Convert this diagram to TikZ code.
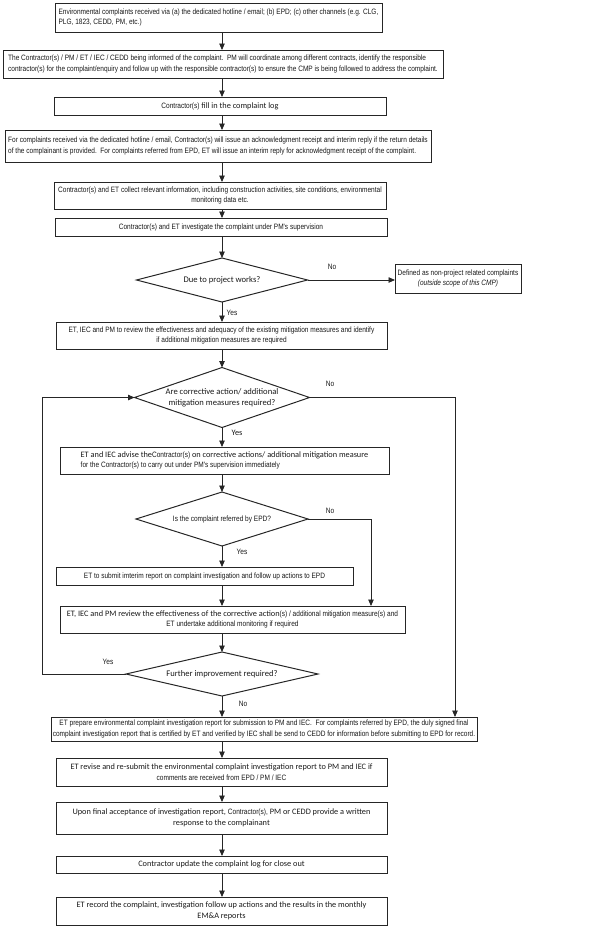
\documentclass[tikz,border=0pt]{standalone}
\usepackage{fontspec}
\setmainfont{Liberation Sans}
\newfontfamily\arnfnt[FakeStretch=0.84]{Liberation Sans}
\newfontfamily\calfnt{Carlito}
\usetikzlibrary{shapes.geometric,arrows.meta}
\newcommand{\af}{\arnfnt\fontsize{7.78}{10.8}\selectfont}
\newcommand{\cf}{\calfnt\fontsize{8.3}{10.8}\selectfont}
\begin{document}
\begin{tikzpicture}[x=1pt,y=-1pt,
  box/.style={draw=black!85,line width=1pt,inner sep=0pt,outer sep=0pt,font=\af,text=black!90},
  dia/.style={draw=black!85,line width=1pt,shape=diamond,inner sep=0pt,outer sep=0pt},
  dlbl/.style={font=\calfnt\fontsize{8.6}{10.8}\selectfont,align=center,text=black!90},
  arr/.style={draw=black!85,line width=0.8pt,-{Triangle[length=6.5pt,width=5.5pt]}},
  lab/.style={font=\arnfnt\fontsize{7.8}{9}\selectfont,text=black!90}]
\useasboundingbox (0,0) rectangle (596,930);
\coordinate (ax) at (222,0);
\coordinate (rx) at (455,0);
\coordinate (mx) at (371,0);
\coordinate (lx) at (42,0);

\node[box,minimum width=327,minimum height=29,align=left] (b1) at (218.5,17.5)
 {Environmental complaints received via (a) the dedicated hotline / email; (b) EPD; (c) other channels (e.g. CLG,\\PLG, 1823, CEDD, PM, etc.)\hspace*{220pt}};
\node[box,minimum width=440,minimum height=28,align=left] (b2) at (223,64)
 {The Contractor(s) / PM / ET / IEC / CEDD being informed of the complaint.~~PM will coordinate among different contracts, identify the responsible\\contractor(s) for the complaint/enquiry and follow up with the responsible contractor(s) to ensure the CMP is being followed to address the complaint.};
\node[box,minimum width=332,minimum height=18,align=center] (b3) at (220,106)
 {Contractor(s) {\cf fill in the complaint log}};
\node[box,minimum width=426,minimum height=32,align=left] (b4) at (218,146)
 {For complaints received via the dedicated hotline / email, Contractor(s) will issue an acknowledgment receipt and interim reply if the return details\\of the complainant is provided.~~For complaints referred from EPD, ET will issue an interim reply for acknowledgment receipt of the complaint.};
\node[box,minimum width=332,minimum height=27,align=center] (b5) at (220,195.5)
 {Contractor(s) and ET collect relevant information, including construction activities, site conditions, environmental\\monitoring data etc.};
\node[box,minimum width=332,minimum height=18,align=center] (b6) at (221,227)
 {Contractor(s) and ET investigate the complaint under PM's supervision};

\node[dia,minimum width=171,minimum height=44,label={[dlbl]center:Due to project works?}] (d1) at (222,280) {};
\node[box,minimum width=126,minimum height=29,align=center] (np) at (458,278.5)
 {Defined as non-project related complaints\\\textit{(outside scope of this CMP)}};
\node[box,minimum width=331,minimum height=27,align=center] (b7) at (221.5,335.5)
 {ET, IEC and PM to review the effectiveness and adequacy of the existing mitigation measures and identify\\if additional mitigation measures are required};

\node[dia,minimum width=175,minimum height=60,label={[dlbl]center:Are corrective action/ additional\\mitigation measures required?}] (d2) at (222,397.5) {};
\node[box,minimum width=329,minimum height=27,align=left] (b8) at (224.5,460.5)
 {{\cf ET and IEC advise the}Contractor(s) {\cf on corrective actions/ additional mitigation measure}\\for the Contractor(s) to carry out under PM's supervision immediately};

\node[dia,minimum width=172,minimum height=54,label={[dlbl,font=\af]center:Is the complaint referred by EPD?}] (d3) at (222,519) {};
\node[box,minimum width=297,minimum height=18,align=center] (b9) at (204.5,576)
 {ET to submit imterim report on complaint investigation and follow up actions to EPD};
\node[box,minimum width=345,minimum height=27,align=center] (b10) at (232.5,619.5)
 {{\cf ET, IEC and PM review the effectiveness of the corrective action}(s) / additional mitigation measure(s) and\\ET undertake additional monitoring if required};

\node[dia,minimum width=192,minimum height=44,label={[dlbl]center:Further improvement required?}] (d4) at (222,674) {};
\node[box,minimum width=426,minimum height=24,align=center] (b11) at (264,729)
 {ET prepare environmental complaint investigation report for submission to PM and IEC.~~For complaints referred by EPD, the duly signed final\\complaint investigation report that is certified by ET and verified by IEC shall be send to CEDD for information before submitting to EPD for record.};
\node[box,minimum width=331,minimum height=28,align=center] (b12) at (221.5,772)
 {{\cf ET revise and re-submit the environmental complaint investigation report to PM and IEC if}\\comments are received from EPD / PM / IEC};
\node[box,minimum width=331,minimum height=32,align=center,font=\cf] (b13) at (221.5,818)
 {Upon final acceptance of investigation report, {\af Contractor(s),} PM or CEDD provide a written\\response to the complainant};
\node[box,minimum width=331,minimum height=17,align=center,font=\cf] (b14) at (221.5,864.5)
 {Contractor update the complaint log for close out};
\node[box,minimum width=331,minimum height=28,align=center,font=\cf] (b15) at (221.5,911)
 {ET record the complaint, investigation follow up actions and the results in the monthly\\EM\&A reports};

% connectors
\draw[arr] (b1.south -| ax) -- (b2.north -| ax);
\draw[arr] (b2.south -| ax) -- (b3.north -| ax);
\draw[arr] (b3.south -| ax) -- (b4.north -| ax);
\draw[arr] (b4.south -| ax) -- (b5.north -| ax);
\draw[arr] (b5.south -| ax) -- (b6.north -| ax);
\draw[arr] (b6.south -| ax) -- (d1.north);
\draw[arr] (d1.east) -- (d1.east -| np.west);
\draw[arr] (d1.south) -- (b7.north -| ax);
\draw[arr] (b7.south -| ax) -- (d2.north);
\draw[arr] (d2.south) -- (b8.north -| ax);
\draw[arr] (d2.east) -| (b11.north -| rx);
\draw[arr] (b8.south -| ax) -- (d3.north);
\draw[arr] (d3.east) -| (b10.north -| mx);
\draw[arr] (d3.south) -- (b9.north -| ax);
\draw[arr] (b9.south -| ax) -- (b10.north -| ax);
\draw[arr] (b10.south -| ax) -- (d4.north);
\draw[arr] (d4.west) -- (d4.west -| lx) |- (d2.west);
\draw[arr] (d4.south) -- (b11.north -| ax);
\draw[arr] (b11.south -| ax) -- (b12.north -| ax);
\draw[arr] (b12.south -| ax) -- (b13.north -| ax);
\draw[arr] (b13.south -| ax) -- (b14.north -| ax);
\draw[arr] (b14.south -| ax) -- (b15.north -| ax);

% labels
\node[lab] (n1) at (332,267) {No};
\node[lab] (y1) at (232,313) {Yes};
\node[lab] (n2) at (330,384) {No};
\node[lab,font=\cf] (y2) at (237,433) {Yes};
\node[lab] (n3) at (330,511) {No};
\node[lab] (y3) at (242,552) {Yes};
\node[lab] (y4) at (108,662) {Yes};
\node[lab] (n4) at (243,704) {No};
\end{tikzpicture}
\end{document}
